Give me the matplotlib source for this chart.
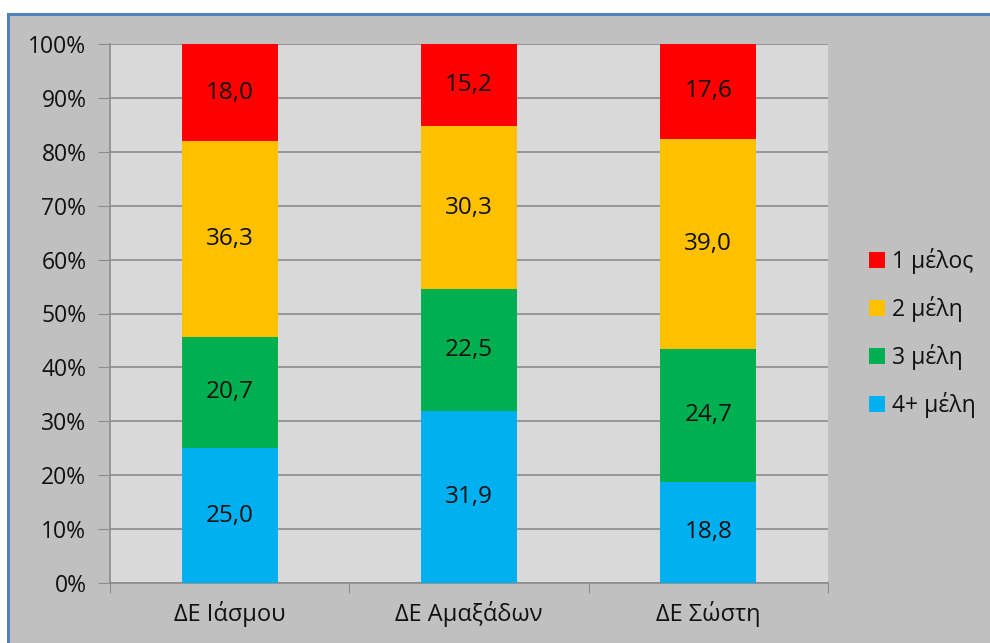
import matplotlib
matplotlib.use("Agg")
import matplotlib.pyplot as plt
from matplotlib.patches import Rectangle
from matplotlib.ticker import FuncFormatter
import numpy as np

categories = ["ΔΕ Ιάσμου", "ΔΕ Αμαξάδων", "ΔΕ Σώστη"]
series_names = ["4+ μέλη", "3 μέλη", "2 μέλη", "1 μέλος"]
vals_4plus = [25.0, 31.9, 18.8]
vals_3 = [20.7, 22.5, 24.7]
vals_2 = [36.3, 30.3, 39.0]
vals_1 = [18.0, 15.2, 17.6]
colors = ["#00B0F0", "#00B050", "#FFC000", "#FF0000"]

plt.rcParams['font.family'] = ['Open Sans', 'DejaVu Sans']

fig = plt.figure(figsize=(9.9, 6.43), dpi=100, facecolor="white")
# chart area frame
fig.patches.append(Rectangle((8/990, -0.05), 1.05, (643-14)/643 + 0.05,
                             transform=fig.transFigure, facecolor="#C0C0C0",
                             edgecolor="#4F81BD", linewidth=2.2, zorder=-10))

ax = fig.add_axes([110/990, 1-583/643, (828-110)/990, (583-44)/643])
ax.set_zorder(1)
ax.set_facecolor("#D9D9D9")

data = [vals_4plus, vals_3, vals_2, vals_1]
totals = np.sum(np.array(data), axis=0)
x = np.arange(len(categories))
bottom = np.zeros(len(categories))
bars = []
for vals, col, name in zip(data, colors, series_names):
    h = np.array(vals) / totals * 100
    b = ax.bar(x, h, bottom=bottom, width=0.4, color=col, label=name, zorder=3)
    for xi, bi, hi, v in zip(x, bottom, h, vals):
        ax.text(xi, bi + hi/2, f"{v:.1f}".replace('.', ','), ha='center', va='center',
                fontsize=17.5, color='#111111', zorder=4)
    bottom += h
    bars.append(b)

ax.set_xlim(-0.5, 2.5)
ax.set_ylim(0, 100)
ax.set_yticks(np.arange(0, 101, 10))
ax.yaxis.set_major_formatter(FuncFormatter(lambda v, p: f"{int(v)}%"))
ax.grid(axis='y', color='#8C8C8C', linewidth=1.2, zorder=1)
ax.set_axisbelow(True)
ax.set_xticks([-0.5, 0.5, 1.5, 2.5])
ax.set_xticklabels([])
ax.set_xticks(x, minor=True)
ax.set_xticklabels(categories, minor=True, fontsize=17, color='#111111')
ax.tick_params(axis='x', which='minor', length=0, pad=13)
ax.tick_params(axis='x', which='major', length=7, color='#8C8C8C', direction='out')
ax.tick_params(axis='y', length=9, color='#8C8C8C', labelsize=16.5, labelcolor='#111111', pad=8)
for s in ['top', 'right']:
    ax.spines[s].set_visible(False)
for s in ['left', 'bottom']:
    ax.spines[s].set_color('#8C8C8C')
    ax.spines[s].set_linewidth(1.2)

handles = bars[::-1]
labels = series_names[::-1]
leg = fig.legend(handles, labels, loc='center left', bbox_to_anchor=(869/990, 1-333/643),
                 frameon=False, fontsize=16.5, handlelength=0.7, handleheight=0.7,
                 handletextpad=0.3, labelspacing=0.97, borderpad=0, borderaxespad=0)
for t in leg.get_texts():
    t.set_color('#111111')

fig.savefig("out.png", dpi=100, facecolor="white")
